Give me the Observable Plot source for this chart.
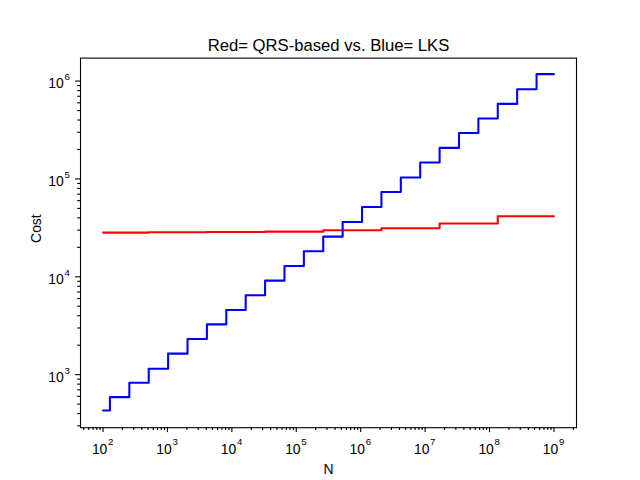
<!DOCTYPE html>
<html>
<head>
<meta charset="utf-8">
<script src="https://cdn.jsdelivr.net/npm/d3@7"></script>
<script src="https://cdn.jsdelivr.net/npm/@observablehq/plot@0.6"></script>
<style>
  html, body { margin: 0; padding: 0; background: #fff; }
</style>
</head>
<body>
<div id="chart"></div>
<script>
// ---- data ----
const titleText = "Red= QRS-based vs. Blue= LKS";
const xLabel = "N";
const yLabel = "Cost";

// Blue (LKS): step breakpoints and cost levels
const blueN = [100, 128, 256, 512, 1024, 2048, 4096, 8192, 16384, 32768, 65536, 131072,
  262144, 524288, 1048576, 2097152, 4194304, 8388608, 16777216, 33554432, 67108864,
  134217728, 268435456, 536870912, 1000000000];
const blueCost = [431, 590, 828, 1151, 1640, 2312, 3266, 4577, 6471, 9140, 12880, 18220,
  25750, 36300, 51760, 73600, 103300, 147100, 207600, 295300, 414600, 585000, 826000,
  1178000, 1178000];

// Red (QRS-based): step breakpoints and cost levels
const redN = [100, 512, 4096, 32768, 262144, 2097152, 16777216, 134217728, 1000000000];
const redCost = [28300, 28500, 28700, 28950, 29870, 31300, 35000, 41600, 41600];

// tick values
const xMajorExp = [2, 3, 4, 5, 6, 7, 8, 9];
const yMajorExp = [3, 4, 5, 6];
const minorMult = [2, 3, 4, 5, 6, 7, 8, 9];
const xDecades = [1, 2, 3, 4, 5, 6, 7, 8, 9];
const yDecades = [2, 3, 4, 5, 6];

// ---- build tables ----
const blue = blueN.map((n, i) => ({n, cost: blueCost[i]}));
const red = redN.map((n, i) => ({n, cost: redCost[i]}));
const xDomain = [Math.pow(10, 1.65), Math.pow(10, 9.35)];
const yDomain = [Math.pow(10, 2.458), Math.pow(10, 6.235)];
const inDom = (v, dom) => v >= dom[0] && v <= dom[1];
const xMajor = xMajorExp.map(e => Math.pow(10, e));
const yMajor = yMajorExp.map(e => Math.pow(10, e));
const xMinor = xDecades.flatMap(e => minorMult.map(m => m * Math.pow(10, e))).filter(v => inDom(v, xDomain));
const yMinor = yDecades.flatMap(e => minorMult.map(m => m * Math.pow(10, e))).filter(v => inDom(v, yDomain));

const fontTick = 13.9;
const fontSup = 9.7;

const chart = Plot.plot({
  width: 640,
  height: 480,
  marginLeft: 80,
  marginRight: 64,
  marginTop: 57.6,
  marginBottom: 52.8,
  style: {fontFamily: "'Liberation Sans', Arial, sans-serif", fontSize: "13.9px", background: "white", color: "black", overflow: "visible"},
  x: {type: "log", domain: xDomain, axis: null},
  y: {type: "log", domain: yDomain, axis: null},
  marks: [
    // minor ticks
    Plot.axisX({ticks: xMinor, tickSize: 2.8, tickFormat: () => "", strokeWidth: 1.1, anchor: "bottom", label: null}),
    Plot.axisY({ticks: yMinor, tickSize: 2.8, tickFormat: () => "", strokeWidth: 1.1, anchor: "left", label: null}),
    // major ticks
    Plot.axisX({ticks: xMajor, tickSize: 4.9, tickFormat: () => "", strokeWidth: 1.1, anchor: "bottom", label: null}),
    Plot.axisY({ticks: yMajor, tickSize: 4.9, tickFormat: () => "", strokeWidth: 1.1, anchor: "left", label: null}),
    // x tick labels: "10" + superscript exponent
    Plot.text(xMajorExp, {x: e => Math.pow(10, e), text: () => "10", frameAnchor: "bottom", lineAnchor: "bottom", textAnchor: "end", dx: 4.3, dy: 25.8, fontSize: fontTick, fill: "black"}),
    Plot.text(xMajorExp, {x: e => Math.pow(10, e), text: e => String(e), frameAnchor: "bottom", lineAnchor: "bottom", textAnchor: "start", dx: 5, dy: 17.6, fontSize: fontSup, fill: "black"}),
    // y tick labels
    Plot.text(yMajorExp, {y: e => Math.pow(10, e), text: () => "10", frameAnchor: "left", lineAnchor: "bottom", textAnchor: "end", dx: -16.7, dy: 7.4, fontSize: fontTick, fill: "black"}),
    Plot.text(yMajorExp, {y: e => Math.pow(10, e), text: e => String(e), frameAnchor: "left", lineAnchor: "bottom", textAnchor: "start", dx: -16, dy: -0.8, fontSize: fontSup, fill: "black"}),
    // data lines
    Plot.line(red, {x: "n", y: "cost", stroke: "#ff0000", strokeWidth: 2.08, curve: "step-after"}),
    Plot.line(blue, {x: "n", y: "cost", stroke: "#0000ff", strokeWidth: 2.08, curve: "step-after"}),
    // frame
    Plot.frame({stroke: "black", strokeWidth: 1.1}),
    // title and axis labels
    Plot.text([titleText], {frameAnchor: "top", lineAnchor: "bottom", dy: -7, fontSize: 16.67, fill: "black"}),
    Plot.text([xLabel], {frameAnchor: "bottom", lineAnchor: "bottom", dy: 46.5, fontSize: fontTick, fill: "black"}),
    Plot.text([yLabel], {frameAnchor: "left", lineAnchor: "bottom", rotate: -90, dx: -40, fontSize: fontTick, fill: "black"})
  ]
});
document.getElementById("chart").appendChild(chart);
</script>
</body>
</html>
